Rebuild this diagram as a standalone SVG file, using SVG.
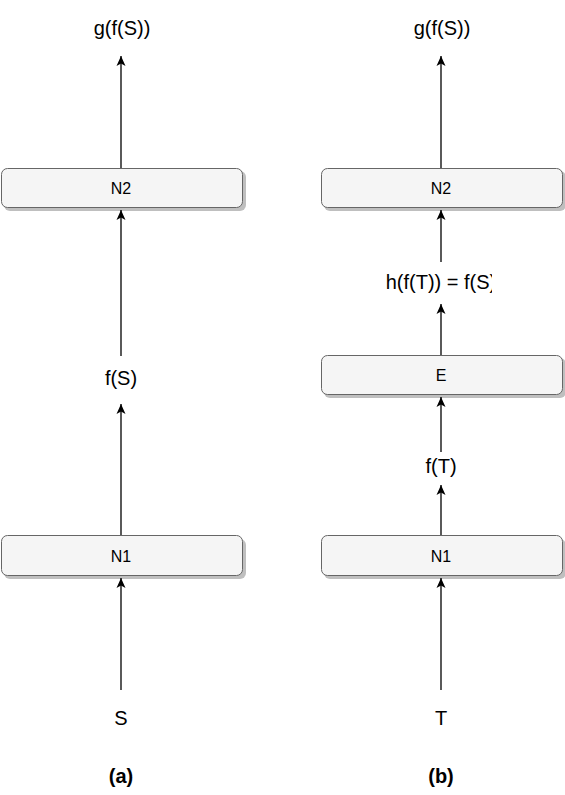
<svg xmlns="http://www.w3.org/2000/svg" width="565" height="795" viewBox="0 0 565 795">
<style>
.box{fill:#f5f5f5;stroke:#666666;stroke-width:1}
.sh{fill:#000;opacity:0.25}
.bl{font-family:"Liberation Sans",Arial,sans-serif;font-size:16px;fill:#000;text-anchor:middle}
.lb{font-family:"Liberation Sans",Arial,sans-serif;font-size:20px;fill:#000;text-anchor:middle}
.cap{font-family:"Liberation Sans",Arial,sans-serif;font-size:20px;font-weight:bold;fill:#000;text-anchor:middle}
.ed{stroke:#000;stroke-width:1.3;fill:none;marker-end:url(#ah)}
</style>
<defs>
<marker id="ah" markerWidth="12" markerHeight="10" viewBox="0 0 12 10" refX="11" refY="5" orient="auto" markerUnits="userSpaceOnUse">
<path d="M11 5 L1 0.5 L3.5 5 L1 9.5 Z" fill="#000"/>
</marker>
<clipPath id="hc"><rect x="370" y="260" width="122" height="40"/></clipPath>
</defs>
<g id="connectors">
<line class="ed" x1="121" y1="690" x2="121" y2="578"/>
<line class="ed" x1="121" y1="536" x2="121" y2="404"/>
<line class="ed" x1="121" y1="356" x2="121" y2="210"/>
<line class="ed" x1="121" y1="168" x2="121" y2="56"/>
<line class="ed" x1="441" y1="690" x2="441" y2="578"/>
<line class="ed" x1="441" y1="536" x2="441" y2="485"/>
<line class="ed" x1="441" y1="452" x2="441" y2="397"/>
<line class="ed" x1="441" y1="355" x2="441" y2="304"/>
<line class="ed" x1="441" y1="262" x2="441" y2="210"/>
<line class="ed" x1="441" y1="168" x2="441" y2="56"/>
</g>
<g id="a-N2">
<rect class="sh" x="4" y="171" width="242" height="40" rx="6"/>
<rect class="box" x="1.5" y="168.5" width="241" height="39" rx="6"/>
<text class="bl" x="121" y="194">N2</text>
</g>
<g id="a-N1">
<rect class="sh" x="4" y="539" width="242" height="40" rx="6"/>
<rect class="box" x="1.5" y="535.5" width="241" height="40" rx="6"/>
<text class="bl" x="121" y="561.5">N1</text>
</g>
<g id="b-N2">
<rect class="sh" x="324" y="171" width="242" height="40" rx="6"/>
<rect class="box" x="321.5" y="168.5" width="241" height="39" rx="6"/>
<text class="bl" x="441" y="194">N2</text>
</g>
<g id="b-E">
<rect class="sh" x="324" y="358" width="242" height="40" rx="6"/>
<rect class="box" x="321.5" y="355.5" width="241" height="39" rx="6"/>
<text class="bl" x="441" y="381">E</text>
</g>
<g id="b-N1">
<rect class="sh" x="324" y="539" width="242" height="40" rx="6"/>
<rect class="box" x="321.5" y="535.5" width="241" height="40" rx="6"/>
<text class="bl" x="441" y="561.5">N1</text>
</g>
<g id="labels">
<text class="lb" x="122" y="35">g(f(S))</text>
<text class="lb" x="121" y="385">f(S)</text>
<text class="lb" x="121" y="725">S</text>
<text class="cap" x="121" y="783">(a)</text>
<text class="lb" x="442" y="35">g(f(S))</text>
<text class="lb" x="441" y="289" clip-path="url(#hc)">h(f(T)) = f(S)</text>
<text class="lb" x="441" y="473">f(T)</text>
<text class="lb" x="441" y="725">T</text>
<text class="cap" x="441" y="783">(b)</text>
</g>
</svg>
